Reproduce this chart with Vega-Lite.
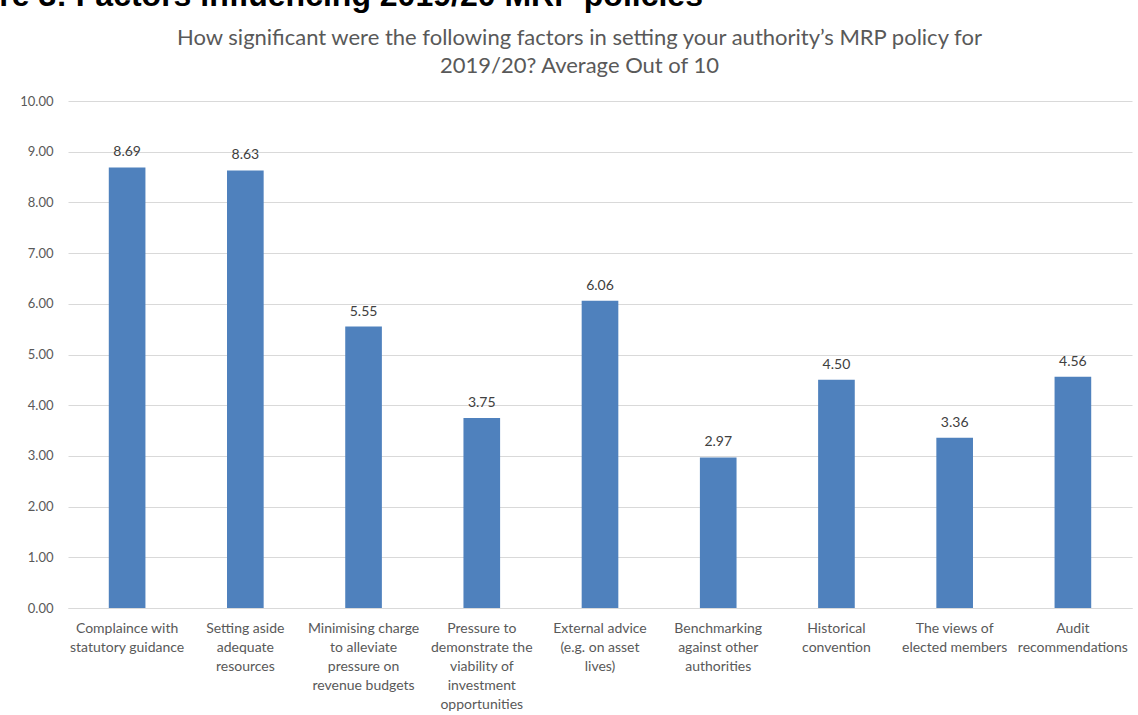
{
  "$schema": "https://vega.github.io/schema/vega-lite/v6.json",
  "width": 1064,
  "height": 507,
  "autosize": {"type": "none"},
  "padding": {"left": 68, "top": 101, "right": 6, "bottom": 107},
  "background": "white",
  "title": {
    "text": "Figure 3: Factors influencing 2019/20 MRP policies",
    "anchor": "start",
    "frame": "bounds",
    "font": "Liberation Sans",
    "fontWeight": "bold",
    "fontSize": 32,
    "color": "#000000",
    "baseline": "alphabetic",
    "offset": 10,
    "dy": 22,
    "dx": -88
  },
  "config": {
    "font": "Lato",
    "view": {"stroke": null}
  },
  "data": {
    "values": [
      {"factor": "Complaince with|statutory guidance", "score": 8.69},
      {"factor": "Setting aside|adequate|resources", "score": 8.63},
      {"factor": "Minimising charge|to alleviate|pressure on|revenue budgets", "score": 5.55},
      {"factor": "Pressure to|demonstrate the|viability of|investment|opportunities", "score": 3.75},
      {"factor": "External advice|(e.g. on asset|lives)", "score": 6.06},
      {"factor": "Benchmarking|against other|authorities", "score": 2.97},
      {"factor": "Historical|convention", "score": 4.5},
      {"factor": "The views of|elected members", "score": 3.36},
      {"factor": "Audit|recommendations", "score": 4.56}
    ]
  },
  "resolve": {"axis": {"x": "independent"}},
  "layer": [
    {
      "mark": {"type": "bar", "color": "#4f81bd"},
      "encoding": {
        "x": {
          "field": "factor",
          "type": "nominal",
          "sort": null,
          "scale": {"paddingInner": 0.69, "paddingOuter": 0.345},
          "axis": {
            "orient": "bottom",
            "title": null,
            "labelAngle": 0,
            "labelExpr": "split(datum.label, '|')",
            "labelFont": "Lato",
            "labelFontSize": 14,
            "labelLineHeight": 19,
            "labelColor": "#595959",
            "labelPadding": 13,
            "labelBaseline": "top",
            "labelLimit": 0,
            "ticks": false,
            "domain": true,
            "domainColor": "#d9d9d9",
            "grid": false
          }
        },
        "y": {
          "field": "score",
          "type": "quantitative",
          "scale": {"domain": [0, 10], "nice": false},
          "axis": {
            "title": null,
            "values": [0, 1, 2, 3, 4, 5, 6, 7, 8, 9, 10],
            "format": ".2f",
            "labelFont": "Lato",
            "labelFontSize": 13,
            "labelColor": "#595959",
            "labelPadding": 15,
            "ticks": false,
            "domain": false,
            "grid": true,
            "gridColor": "#d9d9d9",
            "gridWidth": 1
          }
        }
      }
    },
    {
      "mark": {"type": "text", "dy": -11, "baseline": "alphabetic", "fontSize": 14, "color": "#404040", "font": "Lato"},
      "encoding": {
        "x": {
          "field": "factor",
          "type": "nominal",
          "sort": null,
          "axis": {
            "orient": "top",
            "labels": false,
            "ticks": false,
            "domain": false,
            "grid": false,
            "title": ["How significant were the following factors in setting your authority’s MRP policy for", "2019/20? Average Out of 10"],
            "titleFont": "Lato",
            "titleFontSize": 22,
            "titleFontWeight": "normal",
            "titleColor": "#595959",
            "titleLineHeight": 28,
            "titlePadding": 24,
            "titleX": 511,
            "titleAlign": "center"
          }
        },
        "y": {"field": "score", "type": "quantitative"},
        "text": {"field": "score", "type": "quantitative", "format": ".2f"}
      }
    }
  ]
}
